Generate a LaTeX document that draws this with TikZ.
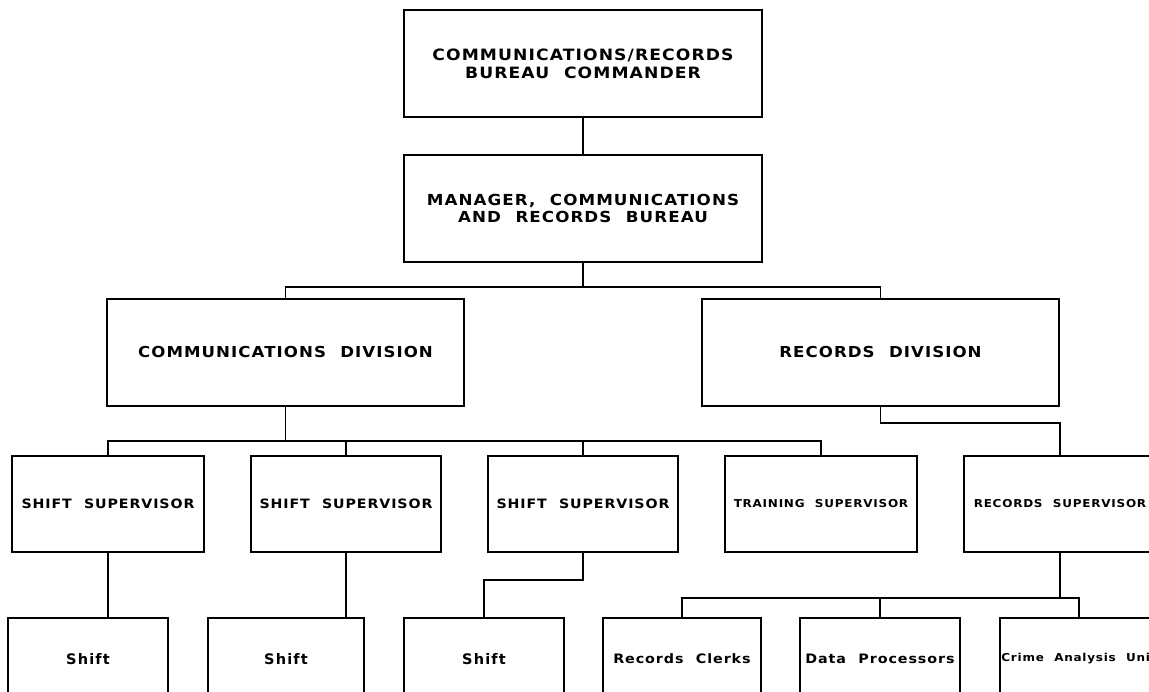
\documentclass[tikz,border=0pt]{standalone}
\usepackage{fontspec}
\newfontfamily\plotfont{DejaVu Sans}[LetterSpace=7,FakeStretch=1.1]
\newfontfamily\plotfontb{DejaVu Sans}[LetterSpace=8]
\newcommand{\wsp}{\hspace{0.95em}}
\begin{document}
\begin{tikzpicture}[x=1pt,y=-1pt,
  box/.style={draw=black, line width=1.8pt, inner sep=0pt, align=center, text=black},
  toplbl/.style={font=\plotfont\bfseries\fontsize{15.6}{18}\selectfont},
  mgrlbl/.style={font=\plotfont\bfseries\fontsize{15.2}{17.5}\selectfont},
  divlbl/.style={font=\plotfont\bfseries\fontsize{15.1}{15.1}\selectfont},
  suplbl/.style={font=\plotfont\bfseries\fontsize{12.9}{12.9}\selectfont},
  smlbl/.style={font=\plotfont\bfseries\fontsize{10.9}{10.9}\selectfont},
  shiftlbl/.style={font=\plotfontb\bfseries\fontsize{14.5}{14.5}\selectfont},
  unitlbl/.style={font=\plotfont\bfseries\fontsize{13}{13}\selectfont},
  crimelbl/.style={font=\plotfont\bfseries\fontsize{10.9}{10.9}\selectfont},
  conn/.style={draw=black, line width=1.6pt}]
\useasboundingbox (0,0) rectangle (1149,692);
\fill[white] (0,0) rectangle (1149,692);
\clip (0,0) rectangle (1149,692);
% level 1-2
\node[box, toplbl, minimum width=358pt, minimum height=107pt] (cmd) at (583,63.5)
  {COMMUNICATIONS/RECORDS\\BUREAU\wsp COMMANDER};
\node[box, mgrlbl, minimum width=358pt, minimum height=107pt] (mgr) at (583,208.5)
  {MANAGER,\wsp COMMUNICATIONS\\AND\wsp RECORDS\wsp BUREAU};
% divisions
\node[box, divlbl, minimum width=357pt, minimum height=107pt] (comm) at (285.5,352.5)
  {COMMUNICATIONS\wsp DIVISION};
\node[box, divlbl, minimum width=357pt, minimum height=107pt] (rec) at (880.5,352.5)
  {RECORDS\wsp DIVISION};
% supervisors
\node[box, suplbl, minimum width=192pt, minimum height=96pt] (ss1) at (108,504) {SHIFT\wsp SUPERVISOR};
\node[box, suplbl, minimum width=190pt, minimum height=96pt] (ss2) at (346,504) {SHIFT\wsp SUPERVISOR};
\node[box, suplbl, minimum width=190pt, minimum height=96pt] (ss3) at (583,504) {SHIFT\wsp SUPERVISOR};
\node[box, smlbl, minimum width=192pt, minimum height=96pt] (trn) at (821,504) {TRAINING\wsp SUPERVISOR};
\node[box, smlbl, minimum width=192pt, minimum height=96pt] (rsup) at (1060,504) {RECORDS\wsp SUPERVISOR};
% bottom row
\node[box, shiftlbl, minimum width=160pt, minimum height=82pt] (sh1) at (88,659) {Shift};
\node[box, shiftlbl, minimum width=156pt, minimum height=82pt] (sh2) at (286,659) {Shift};
\node[box, shiftlbl, minimum width=160pt, minimum height=82pt] (sh3) at (484,659) {Shift};
\node[box, unitlbl, minimum width=158pt, minimum height=82pt] (clk) at (682,659) {Records\wsp Clerks};
\node[box, unitlbl, minimum width=160pt, minimum height=82pt] (dp) at (880,659) {Data\wsp Processors};
\node[box, crimelbl, minimum width=158pt, minimum height=82pt] (cau) at (1079,659) {Crime\wsp Analysis\wsp Unit};
% bus levels
\coordinate (b1) at (0,287);
\coordinate (b2) at (0,441);
\coordinate (b3) at (0,423);
\coordinate (b4) at (0,580);
\coordinate (b5) at (0,598);
% connectors
\draw[conn] (cmd.south) -- (cmd.south |- mgr.north);
\draw[conn] (mgr.south) -- (mgr.south |- b1);
\draw[conn] (comm.north) |- (rec.north |- b1) -- (rec.north);
\draw[conn] (comm.south) -- (comm.south |- b2);
\draw[conn] (ss1.north) |- (trn.north |- b2) -- (trn.north);
\draw[conn] (ss2.north) -- (ss2.north |- b2);
\draw[conn] (ss3.north) -- (ss3.north |- b2);
\draw[conn] (rec.south) -- (rec.south |- b3) -| (rsup.north);
\draw[conn] (ss1.south) -- (ss1.south |- sh1.north);
\draw[conn] (ss2.south) -- (ss2.south |- sh2.north);
\draw[conn] (ss3.south) -- (ss3.south |- b4) -| (sh3.north);
\draw[conn] (rsup.south) -- (rsup.south |- b5);
\draw[conn] (clk.north) |- (cau.north |- b5) -- (cau.north);
\draw[conn] (dp.north) -- (dp.north |- b5);
\end{tikzpicture}
\end{document}
